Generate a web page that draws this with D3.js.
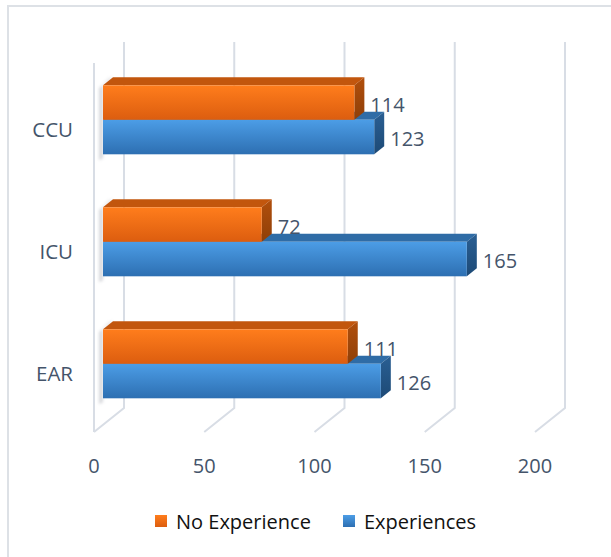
<!DOCTYPE html>
<html>
<head>
<meta charset="utf-8">
<script src="https://cdn.jsdelivr.net/npm/d3@7"></script>
<style>
  html, body { margin: 0; padding: 0; background: #fff; }
  svg { display: block; }
</style>
</head>
<body>
<svg id="chart" width="611" height="557"></svg>
<script>
// Wards (top to bottom) and the two series
const categories = ["CCU", "ICU", "EAR"];
const seriesNames = ["No Experience", "Experiences"];
const noExperience = [114, 72, 111];
const experiences = [123, 165, 126];
const tickValues = [0, 50, 100, 150, 200];

const seriesValues = [noExperience, experiences];

const svg = d3.select("#chart");
const W = 611, H = 557;

// Pseudo-3D geometry: front plane plus a depth vector toward the back wall
const DEPTH = { x: 30, y: -24 };
const BAR_FRONT = 0.3, BAR_BACK = 0.633;
const floorY = 432, frontTop = 66;

const x = d3.scaleLinear().domain([0, 200]).range([94, 535]);
const yCat = d3.scaleBand().domain(categories).range([frontTop, floorY]);
const ySer = d3.scaleBand().domain(seriesNames).range([0, yCat.bandwidth()])
  .paddingInner(0).paddingOuter(0.768);

const textColor = "#44546a";
const font = "'Open Sans', 'Noto Sans', sans-serif";

const palette = {
  "No Experience": { frontTop: "#ff7d1c", frontBot: "#dc5d0f", top: "#c2560d", side0: "#b14f0c", side1: "#8f3f08" },
  "Experiences":   { frontTop: "#4c9de6", frontBot: "#2d6fb2", top: "#2f6ca6", side0: "#2a5f93", side1: "#1d4a76" }
};

const defs = svg.append("defs");
seriesNames.forEach((s, i) => {
  const g = defs.append("linearGradient").attr("id", "front" + i)
    .attr("x1", 0).attr("y1", 0).attr("x2", 0).attr("y2", 1);
  g.append("stop").attr("offset", "0%").attr("stop-color", palette[s].frontTop);
  g.append("stop").attr("offset", "100%").attr("stop-color", palette[s].frontBot);
  const sg = defs.append("linearGradient").attr("id", "side" + i)
    .attr("x1", 0).attr("y1", 0).attr("x2", 0).attr("y2", 1);
  sg.append("stop").attr("offset", "0%").attr("stop-color", palette[s].side0);
  sg.append("stop").attr("offset", "100%").attr("stop-color", palette[s].side1);
});
defs.append("filter").attr("id", "soft").append("feGaussianBlur").attr("stdDeviation", 0.6);
defs.append("filter").attr("id", "shadow").append("feGaussianBlur").attr("stdDeviation", 1.6);

// Outer chart border
svg.append("rect").attr("x", 8).attr("y", 6).attr("width", W + 20).attr("height", H + 20)
  .attr("fill", "#fff").attr("stroke", "#dde1e6").attr("stroke-width", 2);

// Walls: back-wall gridlines, floor diagonals and the side-wall front edge
const grid = svg.append("g").attr("stroke", "#d8dde5").attr("stroke-width", 2)
  .attr("fill", "none").attr("filter", "url(#soft)");
tickValues.forEach(v => {
  const fx = x(v);
  grid.append("path").attr("d", d3.line()([
    [fx, floorY],
    [fx + DEPTH.x, floorY + DEPTH.y],
    [fx + DEPTH.x, frontTop + DEPTH.y]
  ]));
});
grid.append("line").attr("x1", x(0)).attr("x2", x(0)).attr("y1", frontTop - 3).attr("y2", floorY);

// Point in 3D: value v, front-plane y, depth fraction t
function P(v, y, t) { return [x(v) + DEPTH.x * t, y + DEPTH.y * t]; }

const bars = svg.append("g");
categories.forEach((cat, ci) => {
  const g = bars.append("g");
  const y0 = yCat(cat);
  // soft shadow on the side wall left of the stack
  const topY = y0 + ySer(seriesNames[0]);
  const botY = y0 + ySer(seriesNames[1]) + ySer.bandwidth();
  const a = P(0, topY, BAR_FRONT), b = P(0, topY, BAR_BACK), c = P(0, botY, BAR_FRONT);
  g.append("path").attr("fill", "#b9bcc2").attr("opacity", 0.55).attr("filter", "url(#shadow)")
    .attr("d", d3.line()([[a[0] - 4, a[1] + 3], [b[0] - 4, b[1] + 1], [b[0], b[1]], [a[0], a[1]], [c[0], c[1] + 4], [c[0] - 4, c[1] + 6]]) + "Z");

  // draw lower series first so the upper one sits on top of it
  [1, 0].forEach(si => {
    const s = seriesNames[si];
    const v = seriesValues[si][ci];
    const yt = y0 + ySer(s), yb = yt + ySer.bandwidth();
    const poly = pts => d3.line()(pts) + "Z";
    // top face
    g.append("path").attr("fill", palette[s].top)
      .attr("d", poly([P(0, yt, BAR_FRONT), P(v, yt, BAR_FRONT), P(v, yt, BAR_BACK), P(0, yt, BAR_BACK)]));
    // right end face
    g.append("path").attr("fill", `url(#side${si})`)
      .attr("d", poly([P(v, yt, BAR_FRONT), P(v, yt, BAR_BACK), P(v, yb, BAR_BACK), P(v, yb, BAR_FRONT)]));
    // front face
    const f0 = P(0, yt, BAR_FRONT), f1 = P(v, yb, BAR_FRONT);
    g.append("rect").attr("x", f0[0]).attr("y", f0[1])
      .attr("width", f1[0] - f0[0]).attr("height", f1[1] - f0[1])
      .attr("fill", `url(#front${si})`);
    // value label
    g.append("text")
      .attr("x", f1[0] + 16).attr("y", (f0[1] + f1[1]) / 2 + 1.5)
      .attr("dominant-baseline", "central")
      .attr("font-family", font).attr("font-size", 20).attr("fill", textColor)
      .text(v);
  });
});

// Category axis labels
svg.append("g").selectAll("text").data(categories).join("text")
  .attr("x", 73).attr("y", d => yCat(d) + yCat.bandwidth() / 2 + 1.5)
  .attr("text-anchor", "end").attr("dominant-baseline", "central")
  .attr("font-family", font).attr("font-size", 20.5).attr("fill", textColor)
  .text(d => d);

// Value axis labels
svg.append("g").selectAll("text").data(tickValues).join("text")
  .attr("x", d => x(d)).attr("y", 465)
  .attr("text-anchor", "middle").attr("dominant-baseline", "central")
  .attr("font-family", font).attr("font-size", 20).attr("fill", textColor)
  .text(d => d);

// Legend
const legendX = [155, 343];
const legend = svg.append("g");
seriesNames.forEach((s, i) => {
  legend.append("rect").attr("x", legendX[i]).attr("y", 515).attr("width", 12).attr("height", 12)
    .attr("fill", `url(#front${i})`);
  legend.append("text").attr("x", legendX[i] + 21).attr("y", 521)
    .attr("dominant-baseline", "central")
    .attr("font-family", font).attr("font-size", 20).attr("fill", "#111")
    .text(s);
});
</script>
</body>
</html>
